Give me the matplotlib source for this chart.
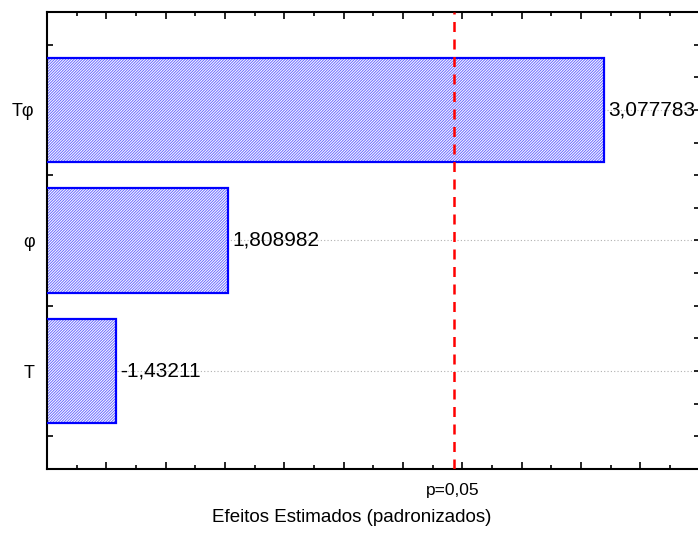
import matplotlib
matplotlib.use("Agg")
import matplotlib.pyplot as plt
from matplotlib.ticker import MultipleLocator, FixedLocator, NullFormatter

plt.rcParams['font.family'] = ['Liberation Sans', 'DejaVu Sans']
plt.rcParams['hatch.linewidth'] = 0.7

# Efeitos padronizados (Pareto)
fatores = ['T', 'φ', 'Tφ']
efeitos = [-1.43211, 1.808982, 3.077783]
p_limite = 2.570582
p_rotulo = 'p=0,05'

fig = plt.figure(figsize=(6.98, 5.34), dpi=100)
ax = fig.add_axes([0.0673, 0.1217, 0.935, 0.856])

pos = list(range(len(fatores)))
absolutos = [abs(v) for v in efeitos]

# grade pontilhada atras das barras
for y in pos:
    ax.axhline(y, color='#b0b0b0', lw=0.8, ls=(0, (1, 2)), zorder=0)

# preenchimento hachurado + contorno azul
ax.barh(pos, absolutos, height=0.8, color='white', edgecolor='#6a6aff',
        hatch='////////////', linewidth=0, zorder=2)
ax.barh(pos, absolutos, height=0.8, fill=False, edgecolor='#0000ff',
        linewidth=1.6, zorder=3)

for y, v, a in zip(pos, efeitos, absolutos):
    txt = str(v).replace('.', ',')
    ax.text(a + 0.015, y, txt, va='center', ha='left', fontsize=15,
            zorder=4)

ax.axvline(p_limite, color='#ff0000', lw=1.8, ls=(0, (4, 3)), zorder=5)

ax.set_xlim(1.2, 3.4)
ax.set_ylim(-0.75, 2.75)

ax.xaxis.set_major_locator(MultipleLocator(0.2))
ax.xaxis.set_minor_locator(MultipleLocator(0.1))
ax.xaxis.set_major_formatter(NullFormatter())
ax.yaxis.set_major_locator(FixedLocator(pos))
ax.yaxis.set_minor_locator(MultipleLocator(0.25))
ax.set_yticklabels(fatores, fontsize=13)

ax.tick_params(axis='both', which='both', direction='in', top=True,
               right=True, width=1.2)
ax.tick_params(axis='x', which='major', length=5)
ax.tick_params(axis='x', which='minor', length=3)
ax.tick_params(axis='y', which='both', length=4, pad=9)

for s in ax.spines.values():
    s.set_linewidth(1.5)

# rotulo do limite p e titulo do eixo x
fig.text(453 / 698, 1 - 491 / 534, p_rotulo, ha='center', va='center',
         fontsize=12.5)
fig.text(212 / 698, 1 - 518 / 534, 'Efeitos Estimados (padronizados)',
         ha='left', va='center', fontsize=13.5)

fig.savefig('out.png', dpi=100)
